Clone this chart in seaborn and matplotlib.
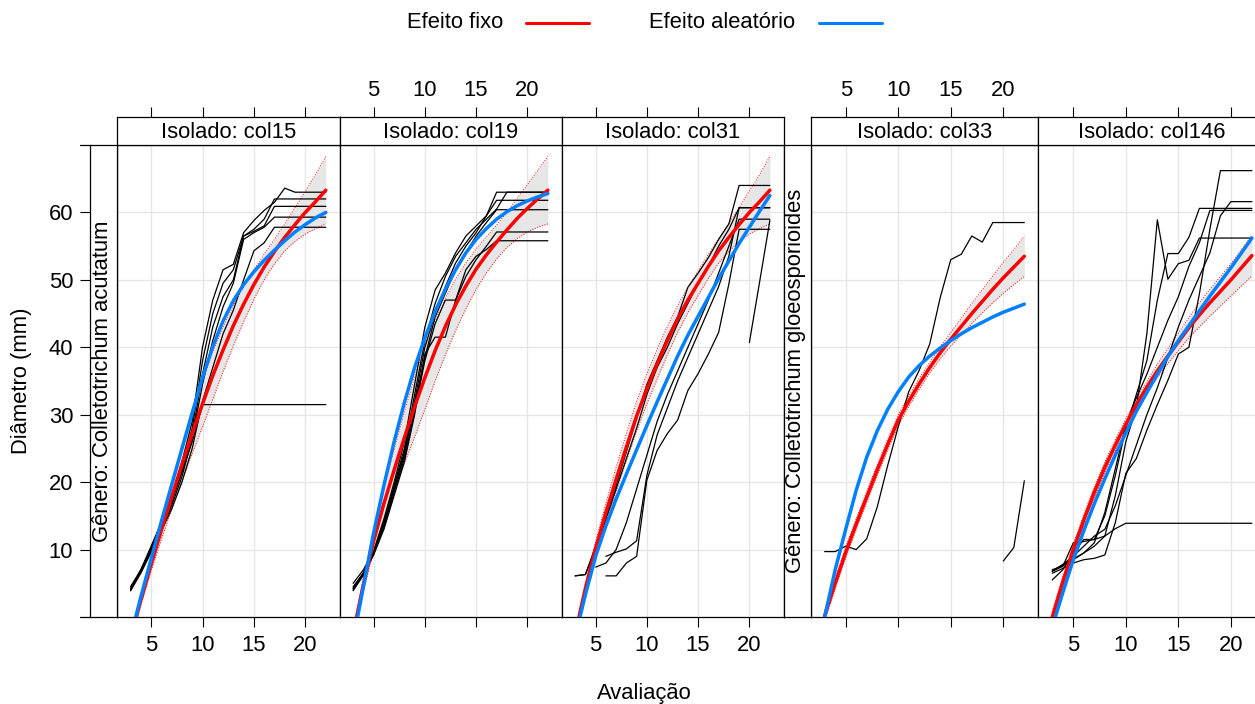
import numpy as np
import pandas as pd
import matplotlib
matplotlib.use("Agg")
import matplotlib.pyplot as plt
import seaborn as sns
from matplotlib.lines import Line2D

sns.set_style("white", {"axes.edgecolor": "black", "xtick.color": "black",
                        "ytick.color": "black", "text.color": "black"})
plt.rcParams["font.family"] = ["Liberation Sans", "DejaVu Sans"]

# ---- data ----
isolados = ["col15", "col19", "col31", "col33", "col146"]
generos = ["Colletotrichum acutatum", "Colletotrichum gloeosporioides"]
dias = list(range(3, 23))
N = np.nan

obs_col15 = [
    [4.5, 7.0, 10.5, 14.0, 17.5, 21.5, 26.0, 31.5, 31.5, 31.5, 31.5, 31.5, 31.5, 31.5, 31.5, 31.5, 31.5, 31.5, 31.5, 31.5],
    [3.9, 6.8, 10.3, 14.0, 18.0, 23.0, 29.0, 40.0, 47.0, 51.5, 52.3, 57.0, 58.8, 60.3, 61.5, 63.6, 63.0, 63.0, 63.0, 63.0],
    [4.2, 7.0, 10.2, 13.6, 17.5, 22.0, 28.0, 38.0, 45.0, 49.5, 51.5, 56.5, 57.5, 59.0, 62.0, 62.0, 62.0, 62.0, 62.0, 62.0],
    [4.0, 6.9, 10.0, 13.3, 17.0, 21.5, 27.0, 36.0, 43.0, 47.5, 50.0, 56.5, 57.2, 58.0, 60.9, 60.9, 60.9, 60.9, 60.9, 60.9],
    [4.1, 6.7, 9.8, 13.0, 16.5, 20.8, 26.5, 34.5, 41.0, 46.0, 49.5, 56.0, 57.0, 57.8, 59.3, 59.3, 59.3, 59.3, 59.3, 59.3],
    [3.9, 6.5, 9.6, 12.8, 16.0, 20.0, 25.0, 32.0, 37.0, 42.0, 45.5, 50.0, 54.3, 55.5, 57.8, 57.8, 57.8, 57.8, 57.8, 57.8],
]
obs_col19 = [
    [5.0, 7.0, 9.8, 14.5, 20.0, 26.0, 34.5, 43.0, 48.5, 51.0, 54.0, 56.5, 58.0, 59.5, 63.0, 63.0, 63.0, 63.0, 63.0, 63.0],
    [4.5, 6.5, 9.5, 14.0, 19.5, 25.0, 33.0, 41.0, 46.5, 50.5, 53.5, 55.5, 57.5, 59.0, 60.5, 63.0, 63.0, 63.0, 63.0, 63.0],
    [3.9, 6.2, 9.3, 13.5, 19.0, 24.5, 32.0, 40.0, 45.0, 49.0, 52.5, 55.0, 57.0, 59.5, 61.8, 61.8, 61.8, 61.8, 61.8, 61.8],
    [4.3, 6.6, 9.6, 14.0, 19.0, 24.0, 31.5, 38.5, 44.5, 48.0, 51.5, 54.0, 56.5, 58.5, 60.4, 60.4, 60.4, 60.4, 60.4, 60.4],
    [4.0, 6.3, 9.2, 13.0, 18.0, 23.0, 30.0, 39.0, 41.5, 41.5, 47.0, 50.5, 53.0, 55.0, 57.1, 57.1, 57.1, 57.1, 57.1, 57.1],
    [4.2, 6.4, 9.4, 13.2, 18.5, 23.5, 30.5, 38.0, 43.5, 47.0, 47.0, 51.5, 53.5, 54.5, 55.8, 55.8, 55.8, 55.8, 55.8, 55.8],
]
obs_col31 = [
    [6.1, 6.3, 10.5, 15.0, 19.5, 24.5, 29.5, 34.5, 38.0, 41.5, 44.5, 48.9, 51.0, 53.3, 56.0, 58.3, 64.0, 64.0, 64.0, 64.0],
    [6.1, 6.3, 10.0, 14.5, 19.0, 23.5, 28.0, 33.0, 37.0, 40.0, 43.5, 46.5, 49.5, 52.0, 55.0, 57.5, 60.7, 60.7, 60.7, 60.7],
    [N, N, 7.4, 8.0, 10.0, 14.0, 19.0, 24.0, 29.0, 33.0, 36.5, 40.0, 43.5, 47.0, 51.0, 55.0, 59.0, 59.0, 59.0, 59.0],
    [N, N, N, 9.0, 9.6, 10.1, 11.3, 21.0, 27.0, 31.0, 35.0, 38.5, 42.0, 45.5, 49.0, 53.5, 60.7, 60.7, 60.7, 60.7],
    [N, N, N, 6.1, 6.1, 8.0, 9.0, 20.3, 24.7, 27.2, 29.2, 33.6, 36.1, 39.0, 42.2, 49.4, 57.5, 57.5, 57.5, 57.5],
    [N, N, N, N, N, N, N, N, N, N, N, N, N, N, N, N, N, 40.7, 49.7, 58.8],
]
obs_col33 = [
    [9.7, 9.7, 10.5, 10.0, 11.6, 16.3, 22.5, 28.2, 33.4, 36.6, 40.5, 47.4, 53.0, 53.8, 56.5, 55.6, 58.5, 58.5, 58.5, 58.5],
    [N, N, N, N, N, N, N, N, N, N, N, N, N, N, N, N, N, 8.3, 10.3, 20.2],
]
obs_col146 = [
    [6.5, 7.2, 8.0, 8.5, 8.7, 9.2, 14.0, 21.3, 23.5, 27.7, 31.5, 35.1, 39.0, 40.0, 47.9, 57.5, 66.2, 66.2, 66.2, 66.2],
    [6.8, 7.8, 9.0, 10.5, 12.0, 13.0, 16.5, 21.0, 25.5, 30.0, 34.0, 38.5, 43.0, 47.0, 50.5, 54.0, 59.5, 61.6, 61.6, 61.6],
    [5.5, 7.0, 9.5, 11.5, 11.5, 12.0, 18.0, 26.0, 31.0, 42.0, 58.9, 50.1, 52.4, 52.9, 56.2, 56.2, 56.2, 56.2, 56.2, 56.2],
    [6.8, 7.5, 11.0, 11.2, 11.5, 15.0, 21.0, 28.0, 33.0, 38.0, 47.0, 53.9, 53.9, 56.3, 60.6, 60.6, 60.6, 60.6, 60.6, 60.6],
    [7.0, 7.6, 8.5, 9.5, 11.0, 15.5, 22.0, 28.5, 32.5, 36.0, 40.0, 44.0, 47.5, 52.0, 55.5, 60.3, 60.3, 60.3, 60.3, 60.3],
    [6.8, 7.7, 8.6, 9.5, 10.5, 12.0, 13.1, 13.9, 13.9, 13.9, 13.9, 13.9, 13.9, 13.9, 13.9, 13.9, 13.9, 13.9, 13.9, 13.9],
]

# fitted curves on the same days: fixed effect, random effect, band around fixed
fixo_col15 = [-3.2, 2.5, 7.8, 12.9, 17.8, 22.6, 27.2, 31.6, 35.8, 39.6, 43.2, 46.4, 49.3, 51.9, 54.2, 56.3, 58.2, 60.0, 61.6, 63.3]
fixo_col19 = [-2.5, 4.8, 11.3, 16.8, 21.8, 26.6, 31.2, 35.5, 39.5, 43.1, 46.3, 49.1, 51.6, 53.7, 55.6, 57.4, 59.1, 60.6, 62.0, 63.3]
fixo_col31 = [-2.5, 4.2, 10.2, 15.5, 20.4, 25.2, 29.8, 33.8, 37.5, 41.0, 44.2, 47.0, 49.5, 52.0, 54.3, 56.3, 58.2, 60.0, 61.6, 63.3]
fixo_col33 = [0.2, 5.0, 9.6, 13.8, 17.8, 21.8, 25.6, 29.2, 32.0, 34.6, 37.0, 39.2, 41.2, 43.1, 45.0, 46.8, 48.6, 50.3, 51.9, 53.5]
fixo_col146 = [0.0, 5.2, 10.0, 14.4, 18.5, 22.2, 25.5, 28.6, 31.5, 34.1, 36.5, 38.7, 40.8, 42.9, 44.8, 46.6, 48.3, 50.0, 51.8, 53.6]

aleat_col15 = [-3.0, 3.0, 8.6, 14.2, 19.6, 25.0, 30.3, 35.5, 40.1, 43.9, 46.9, 49.3, 51.2, 52.9, 54.4, 55.8, 57.1, 58.2, 59.2, 60.0]
aleat_col19 = [-3.5, 4.5, 12.5, 19.5, 26.0, 31.8, 37.0, 41.4, 45.3, 48.6, 51.5, 54.0, 56.0, 57.6, 59.0, 60.1, 61.0, 61.7, 62.3, 62.8]
aleat_col31 = [-3.0, 3.3, 9.0, 13.5, 17.5, 21.2, 24.8, 28.4, 31.9, 35.3, 38.7, 41.8, 44.6, 47.4, 50.2, 52.8, 55.4, 57.8, 60.2, 62.5]
aleat_col33 = [0.0, 7.0, 13.0, 18.8, 23.7, 27.6, 30.8, 33.4, 35.6, 37.3, 38.7, 39.9, 41.0, 42.0, 42.9, 43.7, 44.5, 45.2, 45.8, 46.4]
aleat_col146 = [-1.5, 3.6, 8.5, 12.8, 16.8, 20.5, 24.0, 27.3, 30.5, 33.3, 36.0, 38.6, 41.0, 43.2, 45.4, 47.6, 49.7, 51.8, 54.0, 56.2]

inf_col15 = [-3.7, 1.8, 6.8, 11.5, 16.0, 20.2, 24.2, 28.2, 32.3, 36.4, 40.2, 43.8, 47.1, 50.0, 52.4, 54.3, 55.7, 56.8, 57.6, 58.3]
sup_col15 = [-2.7, 3.2, 8.8, 14.3, 19.6, 25.0, 30.2, 35.0, 39.3, 43.0, 46.2, 49.0, 51.5, 53.8, 56.0, 58.3, 60.7, 63.1, 65.6, 68.3]
inf_col19 = [-3.0, 3.8, 9.8, 14.6, 18.8, 22.8, 26.7, 30.8, 35.0, 38.9, 42.5, 45.7, 48.6, 51.0, 53.1, 54.8, 56.1, 57.1, 57.8, 58.3]
sup_col19 = [-2.0, 5.8, 12.8, 19.0, 24.8, 30.4, 35.7, 40.2, 44.0, 47.3, 50.1, 52.5, 54.6, 56.4, 58.1, 60.0, 62.1, 64.1, 66.2, 68.3]
inf_col31 = [-3.0, 3.4, 9.2, 14.1, 18.6, 23.2, 27.6, 31.6, 35.3, 38.9, 42.2, 45.1, 47.7, 50.2, 52.5, 54.2, 55.7, 56.8, 57.6, 58.3]
sup_col31 = [-2.0, 5.0, 11.2, 16.9, 22.2, 27.2, 32.0, 36.0, 39.7, 43.1, 46.2, 48.9, 51.3, 53.8, 56.1, 58.4, 60.7, 63.2, 65.6, 68.3]
inf_col33 = [-0.6, 4.2, 8.8, 13.0, 17.0, 21.0, 24.8, 28.4, 31.2, 33.8, 36.2, 38.3, 40.2, 41.9, 43.5, 45.1, 46.6, 48.0, 49.3, 50.5]
sup_col33 = [1.0, 5.8, 10.4, 14.6, 18.6, 22.6, 26.4, 30.0, 32.8, 35.4, 37.8, 40.1, 42.2, 44.3, 46.5, 48.5, 50.6, 52.6, 54.5, 56.5]
inf_col146 = [-0.8, 4.4, 9.2, 13.6, 17.7, 21.4, 24.7, 27.8, 30.7, 33.3, 35.5, 37.6, 39.5, 41.4, 43.0, 44.6, 46.1, 47.6, 49.1, 50.6]
sup_col146 = [0.8, 6.0, 10.8, 15.2, 19.3, 23.0, 26.3, 29.4, 32.3, 34.9, 37.5, 39.8, 42.1, 44.4, 46.6, 48.6, 50.5, 52.4, 54.5, 56.6]

obs_all = [obs_col15, obs_col19, obs_col31, obs_col33, obs_col146]
fixo_all = [fixo_col15, fixo_col19, fixo_col31, fixo_col33, fixo_col146]
aleat_all = [aleat_col15, aleat_col19, aleat_col31, aleat_col33, aleat_col146]
inf_all = [inf_col15, inf_col19, inf_col31, inf_col33, inf_col146]
sup_all = [sup_col15, sup_col19, sup_col31, sup_col33, sup_col146]

# ---- layout (pixels) ----
W, H = 1255, 704
PX = [(116.9, 339.5), (339.5, 561.5), (561.5, 783.5), (810.7, 1038.3), (1038.3, 1265.9)]
TOP, BOT, STRIP_TOP = 145, 617, 117.3
XLIM = (1.67, 23.33)
YLIM = (0, 70)
FS = 15.8


def rect(x0, y0, x1, y1):
    return [x0 / W, 1 - y1 / H, (x1 - x0) / W, (y1 - y0) / H]


fig = plt.figure(figsize=(W / 100, H / 100), dpi=100)

for i, iso in enumerate(isolados):
    x0, x1 = PX[i]
    ax = fig.add_axes(rect(x0, TOP, x1, BOT))
    ax.set_xlim(*XLIM)
    ax.set_ylim(*YLIM)
    ax.set_xticks([5, 10, 15, 20])
    ax.set_yticks(range(10, 70, 10))
    ax.grid(True, color="#e6e6e6", lw=1)
    ax.set_axisbelow(True)

    # confidence band of the fixed effect
    ax.fill_between(dias, inf_all[i], sup_all[i], color="#e6e6e6", lw=0, zorder=1)
    ax.plot(dias, inf_all[i], color="red", ls=":", lw=0.7, zorder=2)
    ax.plot(dias, sup_all[i], color="red", ls=":", lw=0.7, zorder=2)

    # observed curves, one per replicate
    rows = []
    for r, serie in enumerate(obs_all[i]):
        for d, v in zip(dias, serie):
            rows.append({"dia": d, "diam": v, "rep": r})
    df = pd.DataFrame(rows).dropna()
    sns.lineplot(data=df, x="dia", y="diam", units="rep", estimator=None,
                 color="black", lw=0.9, ax=ax, legend=False, zorder=3)

    fit = pd.DataFrame({"x": dias, "fixo": fixo_all[i], "aleat": aleat_all[i]})
    sns.lineplot(data=fit, x="x", y="fixo", estimator=None, color="#FF0000",
                 lw=2.5, ax=ax, zorder=4)
    sns.lineplot(data=fit, x="x", y="aleat", estimator=None, color="#0080FF",
                 lw=2.5, ax=ax, zorder=5)
    ax.set(xlabel="", ylabel="")

    ax.tick_params(axis="x", bottom=True, top=False, direction="out", length=7,
                   width=0.8, labelsize=FS, pad=6, labelbottom=(i in (0, 2, 4)))
    ax.tick_params(axis="y", left=False, labelleft=False)
    for sp in ax.spines.values():
        sp.set_linewidth(0.9)

    # top strip with ticks above it
    sax = fig.add_axes(rect(x0, STRIP_TOP, x1, TOP))
    sax.set_xlim(*XLIM)
    sax.set_xticks([5, 10, 15, 20])
    sax.set_yticks([])
    sax.tick_params(axis="x", top=True, bottom=False, labelbottom=False,
                    labeltop=(i in (1, 3)), direction="out", length=7,
                    width=0.8, labelsize=FS, pad=5)
    sax.text(0.5, 0.45, f"Isolado: {iso}", transform=sax.transAxes,
             ha="center", va="center", fontsize=FS)
    for sp in sax.spines.values():
        sp.set_linewidth(0.9)

# left strips for the genus
for g, (sx0, sx1) in enumerate([(90, 116.9), (783.5, 810.7)]):
    vax = fig.add_axes(rect(sx0, TOP, sx1, BOT))
    vax.set_ylim(*YLIM)
    vax.set_xticks([])
    if g == 0:
        vax.set_yticks(range(10, 70, 10))
        vax.tick_params(axis="y", left=True, direction="out", length=7,
                        width=0.8, labelsize=FS, pad=5)
    else:
        vax.set_yticks([])
    vax.text(0.45, 0.5, f"Gênero: {generos[g]}", transform=vax.transAxes,
             rotation=90, ha="center", va="center", fontsize=FS)
    for sp in vax.spines.values():
        sp.set_linewidth(0.9)

for yy in (TOP, BOT):
    fig.add_artist(Line2D([80 / W, 90 / W], [1 - yy / H] * 2, color="black", lw=0.9))

# legend on top
fig.text(455 / W, 1 - 23 / H, "Efeito fixo", ha="center", va="center", fontsize=FS)
fig.add_artist(Line2D([526 / W, 589 / W], [1 - 23 / H] * 2, color="#FF0000", lw=2.2))
fig.text(722 / W, 1 - 23 / H, "Efeito aleatório", ha="center", va="center", fontsize=FS)
fig.add_artist(Line2D([819 / W, 882 / W], [1 - 23 / H] * 2, color="#0080FF", lw=2.2))

fig.text(22 / W, 1 - 381 / H, "Diâmetro (mm)", rotation=90, ha="center",
         va="center", fontsize=FS)
fig.text(644 / W, 1 - 694 / H, "Avaliação", ha="center", va="center", fontsize=FS)

fig.savefig("out.png", dpi=100)
